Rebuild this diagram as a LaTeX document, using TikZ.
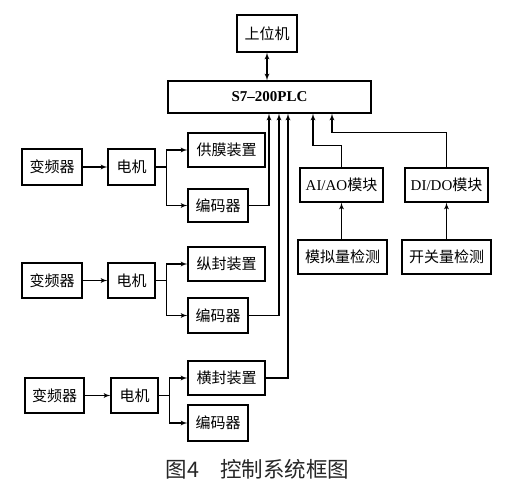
\documentclass[tikz,border=0pt]{standalone}
\usepackage{fontspec}
\setmainfont{Liberation Serif}
\newfontfamily\cjk{Noto Sans CJK SC}
\usetikzlibrary{shapes,arrows,positioning}

\begin{document}
\begin{tikzpicture}[x=1pt, y=-1pt,
    box/.style={rectangle, draw, line width=1.3pt, inner sep=0pt, text centered, font=\cjk\fontsize{15}{17}\selectfont},
    arrow/.style={draw, line width=1.3pt, -latex'}]

    \useasboundingbox (0,0) rectangle (511,486);

    % Node for the upper computer and the PLC
    \node [box, minimum width=60pt, minimum height=37pt] (host) at (267,33.5) {上位机};
    \node [box, minimum width=203pt, minimum height=32pt, font=\bfseries\fontsize{15}{17}\selectfont] (plc) at (269.5,97) {S7–200PLC};
    \draw [line width=1.3pt, latex'-latex'] (host.south) -- (host.south |- plc.north);

    % First drive: film feed
    \node [box, minimum width=60pt, minimum height=36pt] (vfd1) at (52,167) {变频器};
    \node [box, minimum width=47pt, minimum height=36pt] (motor1) at (131.5,167) {电机};
    \node [box, minimum width=77pt, minimum height=34pt] (film) at (226.5,150) {供膜装置};
    \node [box, minimum width=60pt, minimum height=33pt] (enc1) at (218,205.5) {编码器};
    \draw [arrow] (vfd1) -- (motor1);
    \draw [arrow] (motor1.east) -- ++(11,0) |- (film.west);
    \draw [arrow] (motor1.east) -- ++(11,0) |- (enc1.west);
    \draw [arrow] (enc1.east) -| ([xshift=-0.5pt]plc.south);

    % Second drive: longitudinal seal
    \node [box, minimum width=60pt, minimum height=35pt] (vfd2) at (52,280.5) {变频器};
    \node [box, minimum width=47pt, minimum height=35pt] (motor2) at (131.5,280.5) {电机};
    \node [box, minimum width=77pt, minimum height=34pt] (lseal) at (226.5,264) {纵封装置};
    \node [box, minimum width=60pt, minimum height=35pt] (enc2) at (218,315.5) {编码器};
    \draw [arrow] (vfd2) -- (motor2);
    \draw [arrow] (motor2.east) -- ++(11,0) |- (lseal.west);
    \draw [arrow] (motor2.east) -- ++(11,0) |- (enc2.west);
    \draw [arrow] (enc2.east) -| ([xshift=9.5pt]plc.south);

    % Third drive: transverse seal
    \node [box, minimum width=59pt, minimum height=35pt] (vfd3) at (54.5,395.5) {变频器};
    \node [box, minimum width=47pt, minimum height=35pt] (motor3) at (134.5,395.5) {电机};
    \node [box, minimum width=77pt, minimum height=34pt] (tseal) at (226.5,378) {横封装置};
    \node [box, minimum width=60pt, minimum height=36pt] (enc3) at (218,423) {编码器};
    \draw [arrow] (vfd3) -- (motor3);
    \draw [arrow] (motor3.east) -- ++(11,0) |- (tseal.west);
    \draw [arrow] (motor3.east) -- ++(11,0) |- (enc3.west);
    \draw [arrow] (tseal.east) -| ([xshift=18.5pt]plc.south);

    % I/O modules and detection
    \node [box, minimum width=83pt, minimum height=34pt] (aio) at (341.5,185) {{\rmfamily AI/AO}模块};
    \node [box, minimum width=83pt, minimum height=34pt] (dio) at (446.5,185) {{\rmfamily DI/DO}模块};
    \node [box, minimum width=89pt, minimum height=34pt] (ana) at (342.5,257) {模拟量检测};
    \node [box, minimum width=89pt, minimum height=34pt] (sw) at (446.5,257) {开关量检测};
    \draw [arrow] (ana.north -| aio.south) -- (aio.south);
    \draw [arrow] (sw.north) -- (dio.south);
    \draw [arrow] (aio.north) -- ++(0,-22) -| ([xshift=43.5pt]plc.south);
    \draw [arrow] (dio.north) -- ++(0,-35) -| ([xshift=62.5pt]plc.south);

    % Caption
    \node [font=\cjk\fontsize{21.5}{24}\selectfont, text=black!85] (caption) at (257.5,469) {图4　控制系统框图};
\end{tikzpicture}
\end{document}
